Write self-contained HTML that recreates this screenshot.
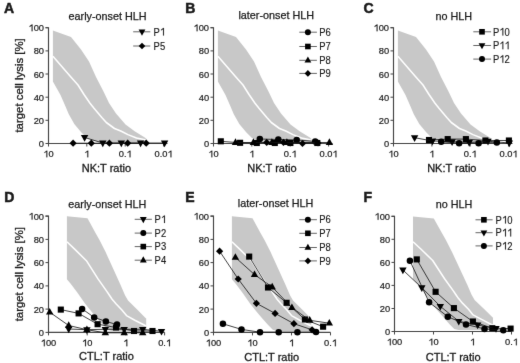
<!DOCTYPE html><html><head><meta charset="utf-8"><style>html,body{margin:0;padding:0;background:#fff;}svg{display:block;filter:grayscale(1);}</style></head><body>
<svg width="520" height="363" viewBox="0 0 520 363" font-family='"Liberation Sans", sans-serif' fill="#1a1a1a">
<rect width="520" height="363" fill="#fff"/>
<defs><filter id="bl" x="0" y="0" width="520" height="363" filterUnits="userSpaceOnUse" color-interpolation-filters="sRGB"><feConvolveMatrix order="3" kernelMatrix="0.00524 0.06192 0.00524 0.06192 0.73137 0.06192 0.00524 0.06192 0.00524" divisor="1" edgeMode="duplicate"/></filter></defs>
<g filter="url(#bl)"><rect width="520" height="363" fill="#fff"/>
<polygon points="52.9,30.4 71.0,37.0 81.0,49.5 89.0,61.5 96.0,77.0 103.5,91.5 109.0,103.0 116.0,113.5 125.5,124.5 135.0,131.5 144.8,137.4 147.0,139.5 147.0,143.0 120.0,143.0 100.0,142.3 92.2,140.5 86.7,137.7 81.2,132.2 74.3,123.9 68.8,114.3 65.3,106.0 60.5,95.0 52.9,81.4" fill="#c8c8c8"/>
<polyline points="52.9,56.3 71.1,77.2 78.0,85.0 84.0,94.5 90.0,103.2 94.0,108.2 101.8,117.5 106.3,122.5 114.5,128.5 121.3,131.3 127.9,134.6 136.5,138.0 144.8,139.8 147.0,140.2" fill="none" stroke="#fff" stroke-width="1.55" stroke-linejoin="round"/>
<polygon points="217.9,30.4 236.0,37.0 246.0,49.5 254.0,61.5 261.0,77.0 268.5,91.5 274.0,103.0 281.0,113.5 290.5,124.5 300.0,131.5 309.8,137.4 312.0,139.5 312.0,143.0 285.0,143.0 265.0,142.3 257.2,140.5 251.7,137.7 246.2,132.2 239.3,123.9 233.8,114.3 230.3,106.0 225.5,95.0 217.9,81.4" fill="#c8c8c8"/>
<polyline points="217.9,56.3 236.1,77.2 243.0,85.0 249.0,94.5 255.0,103.2 259.0,108.2 266.8,117.5 271.3,122.5 279.5,128.5 286.3,131.3 292.9,134.6 301.5,138.0 309.8,139.8 312.0,140.2" fill="none" stroke="#fff" stroke-width="1.55" stroke-linejoin="round"/>
<polygon points="397.9,30.4 416.0,37.0 426.0,49.5 434.0,61.5 441.0,77.0 448.5,91.5 454.0,103.0 461.0,113.5 470.5,124.5 480.0,131.5 489.8,137.4 492.0,139.5 492.0,143.0 465.0,143.0 445.0,142.3 437.2,140.5 431.7,137.7 426.2,132.2 419.3,123.9 413.8,114.3 410.3,106.0 405.5,95.0 397.9,81.4" fill="#c8c8c8"/>
<polyline points="397.9,56.3 416.1,77.2 423.0,85.0 429.0,94.5 435.0,103.2 439.0,108.2 446.8,117.5 451.3,122.5 459.5,128.5 466.3,131.3 472.9,134.6 481.5,138.0 489.8,139.8 492.0,140.2" fill="none" stroke="#fff" stroke-width="1.55" stroke-linejoin="round"/>
<polygon points="66.9,216.2 87.5,218.3 95.8,233.4 99.5,240.0 105.6,252.1 113.2,268.8 120.8,285.5 125.0,295.2 128.0,300.5 137.9,310.3 145.5,317.9 146.2,318.5 146.2,331.0 112.0,331.0 107.8,329.8 102.9,324.8 96.9,317.9 91.0,311.0 85.0,303.5 77.3,292.6 70.7,283.8 66.9,279.2" fill="#c8c8c8"/>
<polyline points="66.9,241.7 74.9,249.4 86.4,260.7 98.0,278.9 107.0,291.6 109.6,295.5 112.1,299.2 116.2,304.0 121.9,310.0 126.5,315.6 134.8,320.2 144.7,325.3 146.2,325.8" fill="none" stroke="#fff" stroke-width="1.55" stroke-linejoin="round"/>
<polygon points="231.9,216.2 252.5,218.3 260.8,233.4 264.5,240.0 270.6,252.1 278.2,268.8 285.8,285.5 290.0,295.2 293.0,300.5 302.9,310.3 310.5,317.9 311.2,318.5 311.2,331.0 277.0,331.0 272.8,329.8 267.9,324.8 261.9,317.9 256.0,311.0 250.0,303.5 242.3,292.6 235.7,283.8 231.9,279.2" fill="#c8c8c8"/>
<polyline points="231.9,241.7 239.9,249.4 251.4,260.7 263.0,278.9 272.0,291.6 274.6,295.5 277.1,299.2 281.2,304.0 286.9,310.0 291.5,315.6 299.8,320.2 309.7,325.3 311.2,325.8" fill="none" stroke="#fff" stroke-width="1.55" stroke-linejoin="round"/>
<polygon points="413.0,216.4 433.8,218.5 442.2,233.4 445.9,240.0 452.0,252.0 459.7,268.5 467.4,285.0 471.6,294.7 474.6,299.9 484.6,309.6 492.2,317.1 493.0,317.7 493.0,330.1 458.5,330.1 454.3,328.9 449.3,324.0 443.3,317.1 437.3,310.3 431.3,302.9 423.5,292.1 416.9,283.4 413.0,278.8" fill="#c8c8c8"/>
<polyline points="413.0,241.7 421.1,249.3 432.7,260.5 444.4,278.5 453.5,291.1 456.1,295.0 458.6,298.6 462.7,303.4 468.5,309.3 473.1,314.9 481.5,319.4 491.4,324.5 493.0,325.0" fill="none" stroke="#fff" stroke-width="1.55" stroke-linejoin="round"/>
<path d="M45.5,27.7H48.5V143.5H167.5" fill="none" stroke="#444" stroke-width="1.15"/>
<path d="M45.5,143.5H48.5" stroke="#444" stroke-width="1"/>
<text x="44.0" y="147.0" font-size="9.3" text-anchor="end" font-weight="normal" stroke="#1a1a1a" stroke-width="0.2" >0</text>
<path d="M45.5,120.3H48.5" stroke="#444" stroke-width="1"/>
<text x="44.0" y="123.8" font-size="9.3" text-anchor="end" font-weight="normal" stroke="#1a1a1a" stroke-width="0.2" >20</text>
<path d="M45.5,97.2H48.5" stroke="#444" stroke-width="1"/>
<text x="44.0" y="100.7" font-size="9.3" text-anchor="end" font-weight="normal" stroke="#1a1a1a" stroke-width="0.2" >40</text>
<path d="M45.5,74.0H48.5" stroke="#444" stroke-width="1"/>
<text x="44.0" y="77.5" font-size="9.3" text-anchor="end" font-weight="normal" stroke="#1a1a1a" stroke-width="0.2" >60</text>
<path d="M45.5,50.9H48.5" stroke="#444" stroke-width="1"/>
<text x="44.0" y="54.4" font-size="9.3" text-anchor="end" font-weight="normal" stroke="#1a1a1a" stroke-width="0.2" >80</text>
<path d="M45.5,27.7H48.5" stroke="#444" stroke-width="1"/>
<polygon points="32.49,31.20 32.49,24.54 31.81,24.54 29.63,26.10 29.63,26.90 31.65,25.64 31.65,31.20" stroke="#1a1a1a" stroke-width="0.2"/>
<text x="33.71" y="31.20" font-size="9.3" stroke="#1a1a1a" stroke-width="0.2">00</text>
<path d="M48.5,143.5V146.5" stroke="#444" stroke-width="1"/>
<polygon points="47.28,157.30 47.28,150.64 46.60,150.64 44.43,152.20 44.43,153.00 46.44,151.74 46.44,157.30" stroke="#1a1a1a" stroke-width="0.2"/>
<text x="48.50" y="157.30" font-size="9.3" stroke="#1a1a1a" stroke-width="0.2">0</text>
<path d="M86.8,143.5V146.5" stroke="#444" stroke-width="1"/>
<polygon points="88.22,157.30 88.22,150.64 87.54,150.64 85.36,152.20 85.36,153.00 87.38,151.74 87.38,157.30" stroke="#1a1a1a" stroke-width="0.2"/>
<path d="M125.2,143.5V146.5" stroke="#444" stroke-width="1"/>
<text x="118.74" y="157.30" font-size="9.3" stroke="#1a1a1a" stroke-width="0.2">0.</text>
<polygon points="130.44,157.30 130.44,150.64 129.77,150.64 127.59,152.20 127.59,153.00 129.61,151.74 129.61,157.30" stroke="#1a1a1a" stroke-width="0.2"/>
<path d="M163.6,143.5V146.5" stroke="#444" stroke-width="1"/>
<text x="154.50" y="157.30" font-size="9.3" stroke="#1a1a1a" stroke-width="0.2">0.0</text>
<polygon points="171.38,157.30 171.38,150.64 170.70,150.64 168.53,152.20 168.53,153.00 170.54,151.74 170.54,157.30" stroke="#1a1a1a" stroke-width="0.2"/>
<path d="M210.5,27.7H213.5V143.5H332.5" fill="none" stroke="#444" stroke-width="1.15"/>
<path d="M210.5,143.5H213.5" stroke="#444" stroke-width="1"/>
<text x="209.1" y="147.0" font-size="9.3" text-anchor="end" font-weight="normal" stroke="#1a1a1a" stroke-width="0.2" >0</text>
<path d="M210.5,120.3H213.5" stroke="#444" stroke-width="1"/>
<text x="209.1" y="123.8" font-size="9.3" text-anchor="end" font-weight="normal" stroke="#1a1a1a" stroke-width="0.2" >20</text>
<path d="M210.5,97.2H213.5" stroke="#444" stroke-width="1"/>
<text x="209.1" y="100.7" font-size="9.3" text-anchor="end" font-weight="normal" stroke="#1a1a1a" stroke-width="0.2" >40</text>
<path d="M210.5,74.0H213.5" stroke="#444" stroke-width="1"/>
<text x="209.1" y="77.5" font-size="9.3" text-anchor="end" font-weight="normal" stroke="#1a1a1a" stroke-width="0.2" >60</text>
<path d="M210.5,50.9H213.5" stroke="#444" stroke-width="1"/>
<text x="209.1" y="54.4" font-size="9.3" text-anchor="end" font-weight="normal" stroke="#1a1a1a" stroke-width="0.2" >80</text>
<path d="M210.5,27.7H213.5" stroke="#444" stroke-width="1"/>
<polygon points="197.49,31.20 197.49,24.54 196.81,24.54 194.63,26.10 194.63,26.90 196.65,25.64 196.65,31.20" stroke="#1a1a1a" stroke-width="0.2"/>
<text x="198.71" y="31.20" font-size="9.3" stroke="#1a1a1a" stroke-width="0.2">00</text>
<path d="M213.5,143.5V146.5" stroke="#444" stroke-width="1"/>
<polygon points="212.28,157.30 212.28,150.64 211.60,150.64 209.43,152.20 209.43,153.00 211.44,151.74 211.44,157.30" stroke="#1a1a1a" stroke-width="0.2"/>
<text x="213.50" y="157.30" font-size="9.3" stroke="#1a1a1a" stroke-width="0.2">0</text>
<path d="M251.8,143.5V146.5" stroke="#444" stroke-width="1"/>
<polygon points="253.22,157.30 253.22,150.64 252.54,150.64 250.36,152.20 250.36,153.00 252.38,151.74 252.38,157.30" stroke="#1a1a1a" stroke-width="0.2"/>
<path d="M290.2,143.5V146.5" stroke="#444" stroke-width="1"/>
<text x="283.74" y="157.30" font-size="9.3" stroke="#1a1a1a" stroke-width="0.2">0.</text>
<polygon points="295.44,157.30 295.44,150.64 294.77,150.64 292.59,152.20 292.59,153.00 294.61,151.74 294.61,157.30" stroke="#1a1a1a" stroke-width="0.2"/>
<path d="M328.6,143.5V146.5" stroke="#444" stroke-width="1"/>
<text x="319.50" y="157.30" font-size="9.3" stroke="#1a1a1a" stroke-width="0.2">0.0</text>
<polygon points="336.38,157.30 336.38,150.64 335.70,150.64 333.53,152.20 333.53,153.00 335.54,151.74 335.54,157.30" stroke="#1a1a1a" stroke-width="0.2"/>
<path d="M390.5,27.7H393.5V143.5H512.5" fill="none" stroke="#444" stroke-width="1.15"/>
<path d="M390.5,143.5H393.5" stroke="#444" stroke-width="1"/>
<text x="389.1" y="147.0" font-size="9.3" text-anchor="end" font-weight="normal" stroke="#1a1a1a" stroke-width="0.2" >0</text>
<path d="M390.5,120.3H393.5" stroke="#444" stroke-width="1"/>
<text x="389.1" y="123.8" font-size="9.3" text-anchor="end" font-weight="normal" stroke="#1a1a1a" stroke-width="0.2" >20</text>
<path d="M390.5,97.2H393.5" stroke="#444" stroke-width="1"/>
<text x="389.1" y="100.7" font-size="9.3" text-anchor="end" font-weight="normal" stroke="#1a1a1a" stroke-width="0.2" >40</text>
<path d="M390.5,74.0H393.5" stroke="#444" stroke-width="1"/>
<text x="389.1" y="77.5" font-size="9.3" text-anchor="end" font-weight="normal" stroke="#1a1a1a" stroke-width="0.2" >60</text>
<path d="M390.5,50.9H393.5" stroke="#444" stroke-width="1"/>
<text x="389.1" y="54.4" font-size="9.3" text-anchor="end" font-weight="normal" stroke="#1a1a1a" stroke-width="0.2" >80</text>
<path d="M390.5,27.7H393.5" stroke="#444" stroke-width="1"/>
<polygon points="377.49,31.20 377.49,24.54 376.81,24.54 374.63,26.10 374.63,26.90 376.65,25.64 376.65,31.20" stroke="#1a1a1a" stroke-width="0.2"/>
<text x="378.71" y="31.20" font-size="9.3" stroke="#1a1a1a" stroke-width="0.2">00</text>
<path d="M393.5,143.5V146.5" stroke="#444" stroke-width="1"/>
<polygon points="392.28,157.30 392.28,150.64 391.60,150.64 389.43,152.20 389.43,153.00 391.44,151.74 391.44,157.30" stroke="#1a1a1a" stroke-width="0.2"/>
<text x="393.50" y="157.30" font-size="9.3" stroke="#1a1a1a" stroke-width="0.2">0</text>
<path d="M431.9,143.5V146.5" stroke="#444" stroke-width="1"/>
<polygon points="433.22,157.30 433.22,150.64 432.54,150.64 430.36,152.20 430.36,153.00 432.38,151.74 432.38,157.30" stroke="#1a1a1a" stroke-width="0.2"/>
<path d="M470.2,143.5V146.5" stroke="#444" stroke-width="1"/>
<text x="463.74" y="157.30" font-size="9.3" stroke="#1a1a1a" stroke-width="0.2">0.</text>
<polygon points="475.44,157.30 475.44,150.64 474.77,150.64 472.59,152.20 472.59,153.00 474.61,151.74 474.61,157.30" stroke="#1a1a1a" stroke-width="0.2"/>
<path d="M508.6,143.5V146.5" stroke="#444" stroke-width="1"/>
<text x="499.50" y="157.30" font-size="9.3" stroke="#1a1a1a" stroke-width="0.2">0.0</text>
<polygon points="516.38,157.30 516.38,150.64 515.70,150.64 513.53,152.20 513.53,153.00 515.54,151.74 515.54,157.30" stroke="#1a1a1a" stroke-width="0.2"/>
<path d="M45.5,216.1H48.5V332.4H164.6" fill="none" stroke="#444" stroke-width="1.15"/>
<path d="M45.5,332.4H48.5" stroke="#444" stroke-width="1"/>
<text x="44.0" y="335.9" font-size="9.3" text-anchor="end" font-weight="normal" stroke="#1a1a1a" stroke-width="0.2" >0</text>
<path d="M45.5,309.1H48.5" stroke="#444" stroke-width="1"/>
<text x="44.0" y="312.6" font-size="9.3" text-anchor="end" font-weight="normal" stroke="#1a1a1a" stroke-width="0.2" >20</text>
<path d="M45.5,285.9H48.5" stroke="#444" stroke-width="1"/>
<text x="44.0" y="289.4" font-size="9.3" text-anchor="end" font-weight="normal" stroke="#1a1a1a" stroke-width="0.2" >40</text>
<path d="M45.5,262.6H48.5" stroke="#444" stroke-width="1"/>
<text x="44.0" y="266.1" font-size="9.3" text-anchor="end" font-weight="normal" stroke="#1a1a1a" stroke-width="0.2" >60</text>
<path d="M45.5,239.4H48.5" stroke="#444" stroke-width="1"/>
<text x="44.0" y="242.9" font-size="9.3" text-anchor="end" font-weight="normal" stroke="#1a1a1a" stroke-width="0.2" >80</text>
<path d="M45.5,216.1H48.5" stroke="#444" stroke-width="1"/>
<polygon points="32.49,219.60 32.49,212.94 31.81,212.94 29.63,214.50 29.63,215.30 31.65,214.04 31.65,219.60" stroke="#1a1a1a" stroke-width="0.2"/>
<text x="33.71" y="219.60" font-size="9.3" stroke="#1a1a1a" stroke-width="0.2">00</text>
<path d="M48.5,332.4V335.4" stroke="#444" stroke-width="1"/>
<polygon points="44.69,346.20 44.69,339.54 44.02,339.54 41.84,341.10 41.84,341.90 43.86,340.64 43.86,346.20" stroke="#1a1a1a" stroke-width="0.2"/>
<text x="45.91" y="346.20" font-size="9.3" stroke="#1a1a1a" stroke-width="0.2">00</text>
<path d="M87.2,332.4V335.4" stroke="#444" stroke-width="1"/>
<polygon points="85.98,346.20 85.98,339.54 85.30,339.54 83.13,341.10 83.13,341.90 85.14,340.64 85.14,346.20" stroke="#1a1a1a" stroke-width="0.2"/>
<text x="87.20" y="346.20" font-size="9.3" stroke="#1a1a1a" stroke-width="0.2">0</text>
<path d="M125.9,332.4V335.4" stroke="#444" stroke-width="1"/>
<polygon points="127.27,346.20 127.27,339.54 126.59,339.54 124.41,341.10 124.41,341.90 126.43,340.64 126.43,346.20" stroke="#1a1a1a" stroke-width="0.2"/>
<path d="M164.6,332.4V335.4" stroke="#444" stroke-width="1"/>
<text x="158.14" y="346.20" font-size="9.3" stroke="#1a1a1a" stroke-width="0.2">0.</text>
<polygon points="169.84,346.20 169.84,339.54 169.17,339.54 166.99,341.10 166.99,341.90 169.01,340.64 169.01,346.20" stroke="#1a1a1a" stroke-width="0.2"/>
<path d="M210.5,216.1H213.5V332.4H330.5" fill="none" stroke="#444" stroke-width="1.15"/>
<path d="M210.5,332.4H213.5" stroke="#444" stroke-width="1"/>
<text x="209.1" y="335.9" font-size="9.3" text-anchor="end" font-weight="normal" stroke="#1a1a1a" stroke-width="0.2" >0</text>
<path d="M210.5,309.1H213.5" stroke="#444" stroke-width="1"/>
<text x="209.1" y="312.6" font-size="9.3" text-anchor="end" font-weight="normal" stroke="#1a1a1a" stroke-width="0.2" >20</text>
<path d="M210.5,285.9H213.5" stroke="#444" stroke-width="1"/>
<text x="209.1" y="289.4" font-size="9.3" text-anchor="end" font-weight="normal" stroke="#1a1a1a" stroke-width="0.2" >40</text>
<path d="M210.5,262.6H213.5" stroke="#444" stroke-width="1"/>
<text x="209.1" y="266.1" font-size="9.3" text-anchor="end" font-weight="normal" stroke="#1a1a1a" stroke-width="0.2" >60</text>
<path d="M210.5,239.4H213.5" stroke="#444" stroke-width="1"/>
<text x="209.1" y="242.9" font-size="9.3" text-anchor="end" font-weight="normal" stroke="#1a1a1a" stroke-width="0.2" >80</text>
<path d="M210.5,216.1H213.5" stroke="#444" stroke-width="1"/>
<polygon points="197.49,219.60 197.49,212.94 196.81,212.94 194.63,214.50 194.63,215.30 196.65,214.04 196.65,219.60" stroke="#1a1a1a" stroke-width="0.2"/>
<text x="198.71" y="219.60" font-size="9.3" stroke="#1a1a1a" stroke-width="0.2">00</text>
<path d="M213.5,332.4V335.4" stroke="#444" stroke-width="1"/>
<polygon points="209.69,346.20 209.69,339.54 209.02,339.54 206.84,341.10 206.84,341.90 208.86,340.64 208.86,346.20" stroke="#1a1a1a" stroke-width="0.2"/>
<text x="210.91" y="346.20" font-size="9.3" stroke="#1a1a1a" stroke-width="0.2">00</text>
<path d="M252.5,332.4V335.4" stroke="#444" stroke-width="1"/>
<polygon points="251.28,346.20 251.28,339.54 250.60,339.54 248.43,341.10 248.43,341.90 250.44,340.64 250.44,346.20" stroke="#1a1a1a" stroke-width="0.2"/>
<text x="252.50" y="346.20" font-size="9.3" stroke="#1a1a1a" stroke-width="0.2">0</text>
<path d="M291.5,332.4V335.4" stroke="#444" stroke-width="1"/>
<polygon points="292.87,346.20 292.87,339.54 292.19,339.54 290.01,341.10 290.01,341.90 292.03,340.64 292.03,346.20" stroke="#1a1a1a" stroke-width="0.2"/>
<path d="M330.5,332.4V335.4" stroke="#444" stroke-width="1"/>
<text x="324.04" y="346.20" font-size="9.3" stroke="#1a1a1a" stroke-width="0.2">0.</text>
<polygon points="335.74,346.20 335.74,339.54 335.07,339.54 332.89,341.10 332.89,341.90 334.91,340.64 334.91,346.20" stroke="#1a1a1a" stroke-width="0.2"/>
<path d="M391.5,216.3H394.5V331.5H511.5" fill="none" stroke="#444" stroke-width="1.15"/>
<path d="M391.5,331.5H394.5" stroke="#444" stroke-width="1"/>
<text x="390.1" y="335.0" font-size="9.3" text-anchor="end" font-weight="normal" stroke="#1a1a1a" stroke-width="0.2" >0</text>
<path d="M391.5,308.5H394.5" stroke="#444" stroke-width="1"/>
<text x="390.1" y="312.0" font-size="9.3" text-anchor="end" font-weight="normal" stroke="#1a1a1a" stroke-width="0.2" >20</text>
<path d="M391.5,285.4H394.5" stroke="#444" stroke-width="1"/>
<text x="390.1" y="288.9" font-size="9.3" text-anchor="end" font-weight="normal" stroke="#1a1a1a" stroke-width="0.2" >40</text>
<path d="M391.5,262.4H394.5" stroke="#444" stroke-width="1"/>
<text x="390.1" y="265.9" font-size="9.3" text-anchor="end" font-weight="normal" stroke="#1a1a1a" stroke-width="0.2" >60</text>
<path d="M391.5,239.3H394.5" stroke="#444" stroke-width="1"/>
<text x="390.1" y="242.8" font-size="9.3" text-anchor="end" font-weight="normal" stroke="#1a1a1a" stroke-width="0.2" >80</text>
<path d="M391.5,216.3H394.5" stroke="#444" stroke-width="1"/>
<polygon points="378.49,219.80 378.49,213.14 377.81,213.14 375.63,214.70 375.63,215.50 377.65,214.24 377.65,219.80" stroke="#1a1a1a" stroke-width="0.2"/>
<text x="379.71" y="219.80" font-size="9.3" stroke="#1a1a1a" stroke-width="0.2">00</text>
<path d="M394.5,331.5V334.5" stroke="#444" stroke-width="1"/>
<polygon points="390.69,345.30 390.69,338.64 390.02,338.64 387.84,340.20 387.84,341.00 389.86,339.74 389.86,345.30" stroke="#1a1a1a" stroke-width="0.2"/>
<text x="391.91" y="345.30" font-size="9.3" stroke="#1a1a1a" stroke-width="0.2">00</text>
<path d="M433.5,331.5V334.5" stroke="#444" stroke-width="1"/>
<polygon points="432.28,345.30 432.28,338.64 431.60,338.64 429.43,340.20 429.43,341.00 431.44,339.74 431.44,345.30" stroke="#1a1a1a" stroke-width="0.2"/>
<text x="433.50" y="345.30" font-size="9.3" stroke="#1a1a1a" stroke-width="0.2">0</text>
<path d="M472.5,331.5V334.5" stroke="#444" stroke-width="1"/>
<polygon points="473.87,345.30 473.87,338.64 473.19,338.64 471.01,340.20 471.01,341.00 473.03,339.74 473.03,345.30" stroke="#1a1a1a" stroke-width="0.2"/>
<path d="M511.5,331.5V334.5" stroke="#444" stroke-width="1"/>
<text x="505.04" y="345.30" font-size="9.3" stroke="#1a1a1a" stroke-width="0.2">0.</text>
<polygon points="516.74,345.30 516.74,338.64 516.07,338.64 513.89,340.20 513.89,341.00 515.91,339.74 515.91,345.30" stroke="#1a1a1a" stroke-width="0.2"/>
<text x="106.4" y="171.6" font-size="11" text-anchor="middle" font-weight="normal" stroke="#1a1a1a" stroke-width="0.3" >NK:T ratio</text>
<text x="271.9" y="171.6" font-size="11" text-anchor="middle" font-weight="normal" stroke="#1a1a1a" stroke-width="0.3" >NK:T ratio</text>
<text x="451.8" y="171.6" font-size="11" text-anchor="middle" font-weight="normal" stroke="#1a1a1a" stroke-width="0.3" >NK:T ratio</text>
<text x="106.5" y="360.4" font-size="11" text-anchor="middle" font-weight="normal" stroke="#1a1a1a" stroke-width="0.3" >CTL:T ratio</text>
<text x="271.7" y="360.8" font-size="11" text-anchor="middle" font-weight="normal" stroke="#1a1a1a" stroke-width="0.3" >CTL:T ratio</text>
<text x="453.2" y="360.6" font-size="11" text-anchor="middle" font-weight="normal" stroke="#1a1a1a" stroke-width="0.3" >CTL:T ratio</text>
<text x="0.0" y="0.0" font-size="11.4" text-anchor="middle" font-weight="normal" stroke="#1a1a1a" stroke-width="0.3" transform="translate(22.9,85.4) rotate(-90)">target cell lysis [%]</text>
<text x="0.0" y="0.0" font-size="11.4" text-anchor="middle" font-weight="normal" stroke="#1a1a1a" stroke-width="0.3" transform="translate(22.9,274.2) rotate(-90)">target cell lysis [%]</text>
<text x="107.6" y="19.8" font-size="10.8" text-anchor="middle" font-weight="normal" stroke="#1a1a1a" stroke-width="0.25" >early-onset HLH</text>
<text x="276.2" y="19.0" font-size="10.8" text-anchor="middle" font-weight="normal" stroke="#1a1a1a" stroke-width="0.25" >later-onset HLH</text>
<text x="453.8" y="19.6" font-size="10.8" text-anchor="middle" font-weight="normal" stroke="#1a1a1a" stroke-width="0.25" >no HLH</text>
<text x="107.3" y="207.6" font-size="10.8" text-anchor="middle" font-weight="normal" stroke="#1a1a1a" stroke-width="0.25" >early-onset HLH</text>
<text x="275.6" y="207.3" font-size="10.8" text-anchor="middle" font-weight="normal" stroke="#1a1a1a" stroke-width="0.25" >later-onset HLH</text>
<text x="454.0" y="207.8" font-size="10.8" text-anchor="middle" font-weight="normal" stroke="#1a1a1a" stroke-width="0.25" >no HLH</text>
<text x="3.9" y="12.9" font-size="14" text-anchor="start" font-weight="bold" stroke="#1a1a1a" stroke-width="0.5" >A</text>
<text x="185.2" y="12.8" font-size="14" text-anchor="start" font-weight="bold" stroke="#1a1a1a" stroke-width="0.5" >B</text>
<text x="363.5" y="12.9" font-size="14" text-anchor="start" font-weight="bold" stroke="#1a1a1a" stroke-width="0.5" >C</text>
<text x="4.3" y="202.3" font-size="14" text-anchor="start" font-weight="bold" stroke="#1a1a1a" stroke-width="0.5" >D</text>
<text x="185.2" y="202.2" font-size="14" text-anchor="start" font-weight="bold" stroke="#1a1a1a" stroke-width="0.5" >E</text>
<text x="363.6" y="202.1" font-size="14" text-anchor="start" font-weight="bold" stroke="#1a1a1a" stroke-width="0.5" >F</text>
<polyline points="84.6,137.5 102.8,143.0 121.3,143.0 140.6,143.0 164.6,143.0" fill="none" stroke="#111" stroke-width="0.8"/>
<polygon points="80.90,135.10 88.30,135.10 84.60,141.70" fill="#000"/>
<polygon points="99.10,140.60 106.50,140.60 102.80,147.20" fill="#000"/>
<polygon points="117.60,140.60 125.00,140.60 121.30,147.20" fill="#000"/>
<polygon points="136.90,140.60 144.30,140.60 140.60,147.20" fill="#000"/>
<polygon points="160.90,140.60 168.30,140.60 164.60,147.20" fill="#000"/>
<polyline points="73.1,143.2 91.3,143.2 109.4,143.2 127.7,143.2 146.2,143.2" fill="none" stroke="#111" stroke-width="0.8"/>
<polygon points="73.10,139.60 76.70,143.20 73.10,146.80 69.50,143.20" fill="#000"/>
<polygon points="91.30,139.60 94.90,143.20 91.30,146.80 87.70,143.20" fill="#000"/>
<polygon points="109.40,139.60 113.00,143.20 109.40,146.80 105.80,143.20" fill="#000"/>
<polygon points="127.70,139.60 131.30,143.20 127.70,146.80 124.10,143.20" fill="#000"/>
<polygon points="146.20,139.60 149.80,143.20 146.20,146.80 142.60,143.20" fill="#000"/>
<polyline points="259.8,139.0 278.3,139.5 296.7,140.0 315.2,141.4" fill="none" stroke="#111" stroke-width="0.8"/>
<circle cx="259.8" cy="139.0" r="3.25" fill="#000"/>
<circle cx="278.3" cy="139.5" r="3.25" fill="#000"/>
<circle cx="296.7" cy="140.0" r="3.25" fill="#000"/>
<circle cx="315.2" cy="141.4" r="3.25" fill="#000"/>
<polyline points="220.8,141.3 240.1,142.8 256.8,143.0 274.8,143.0 290.4,143.0 317.3,143.0" fill="none" stroke="#111" stroke-width="0.8"/>
<rect x="217.75" y="138.25" width="6.10" height="6.10" fill="#000"/>
<rect x="237.05" y="139.75" width="6.10" height="6.10" fill="#000"/>
<rect x="253.75" y="139.95" width="6.10" height="6.10" fill="#000"/>
<rect x="271.75" y="139.95" width="6.10" height="6.10" fill="#000"/>
<rect x="287.35" y="139.95" width="6.10" height="6.10" fill="#000"/>
<rect x="314.25" y="139.95" width="6.10" height="6.10" fill="#000"/>
<polyline points="235.5,142.5 253.4,142.5 271.9,142.5 286.9,142.5 329.4,142.5" fill="none" stroke="#111" stroke-width="0.8"/>
<polygon points="231.80,144.90 239.20,144.90 235.50,138.30" fill="#000"/>
<polygon points="249.70,144.90 257.10,144.90 253.40,138.30" fill="#000"/>
<polygon points="268.20,144.90 275.60,144.90 271.90,138.30" fill="#000"/>
<polygon points="283.20,144.90 290.60,144.90 286.90,138.30" fill="#000"/>
<polygon points="325.70,144.90 333.10,144.90 329.40,138.30" fill="#000"/>
<polyline points="266.7,142.4 283.5,142.4 302.5,143.5 318.0,143.0" fill="none" stroke="#111" stroke-width="0.8"/>
<polygon points="266.70,138.80 270.30,142.40 266.70,146.00 263.10,142.40" fill="#000"/>
<polygon points="283.50,138.80 287.10,142.40 283.50,146.00 279.90,142.40" fill="#000"/>
<polygon points="302.50,139.90 306.10,143.50 302.50,147.10 298.90,143.50" fill="#000"/>
<polygon points="318.00,139.40 321.60,143.00 318.00,146.60 314.40,143.00" fill="#000"/>
<polyline points="429.0,140.0 447.7,139.1 465.9,139.1 485.4,140.5 508.9,140.5" fill="none" stroke="#111" stroke-width="0.8"/>
<rect x="425.95" y="136.95" width="6.10" height="6.10" fill="#000"/>
<rect x="444.65" y="136.05" width="6.10" height="6.10" fill="#000"/>
<rect x="462.85" y="136.05" width="6.10" height="6.10" fill="#000"/>
<rect x="482.35" y="137.45" width="6.10" height="6.10" fill="#000"/>
<rect x="505.85" y="137.45" width="6.10" height="6.10" fill="#000"/>
<polyline points="414.6,137.7 432.5,141.0 452.1,141.7 469.2,142.5 488.0,141.2 509.3,143.0" fill="none" stroke="#111" stroke-width="0.8"/>
<polygon points="410.90,135.30 418.30,135.30 414.60,141.90" fill="#000"/>
<polygon points="428.80,138.60 436.20,138.60 432.50,145.20" fill="#000"/>
<polygon points="448.40,139.30 455.80,139.30 452.10,145.90" fill="#000"/>
<polygon points="465.50,140.10 472.90,140.10 469.20,146.70" fill="#000"/>
<polygon points="484.30,138.80 491.70,138.80 488.00,145.40" fill="#000"/>
<polygon points="505.60,140.60 513.00,140.60 509.30,147.20" fill="#000"/>
<polyline points="441.2,141.7 459.1,143.2 478.6,143.2 496.8,142.5" fill="none" stroke="#111" stroke-width="0.8"/>
<circle cx="441.2" cy="141.7" r="3.25" fill="#000"/>
<circle cx="459.1" cy="143.2" r="3.25" fill="#000"/>
<circle cx="478.6" cy="143.2" r="3.25" fill="#000"/>
<circle cx="496.8" cy="142.5" r="3.25" fill="#000"/>
<polyline points="68.7,329.0 86.9,329.7 105.3,329.3 124.2,329.3 142.7,329.3 161.5,331.3" fill="none" stroke="#111" stroke-width="0.8"/>
<polygon points="65.00,326.60 72.40,326.60 68.70,333.20" fill="#000"/>
<polygon points="83.20,327.30 90.60,327.30 86.90,333.90" fill="#000"/>
<polygon points="101.60,326.90 109.00,326.90 105.30,333.50" fill="#000"/>
<polygon points="120.50,326.90 127.90,326.90 124.20,333.50" fill="#000"/>
<polygon points="139.00,326.90 146.40,326.90 142.70,333.50" fill="#000"/>
<polygon points="157.80,328.90 165.20,328.90 161.50,335.50" fill="#000"/>
<polyline points="82.1,308.9 94.2,317.4 105.9,321.4 117.0,324.6" fill="none" stroke="#111" stroke-width="0.8"/>
<circle cx="82.1" cy="308.9" r="3.25" fill="#000"/>
<circle cx="94.2" cy="317.4" r="3.25" fill="#000"/>
<circle cx="105.9" cy="321.4" r="3.25" fill="#000"/>
<circle cx="117.0" cy="324.6" r="3.25" fill="#000"/>
<polyline points="60.8,309.6 78.6,313.4 97.6,324.2 116.0,327.5 134.0,331.0 152.5,331.0" fill="none" stroke="#111" stroke-width="0.8"/>
<rect x="57.75" y="306.55" width="6.10" height="6.10" fill="#000"/>
<rect x="75.55" y="310.35" width="6.10" height="6.10" fill="#000"/>
<rect x="94.55" y="321.15" width="6.10" height="6.10" fill="#000"/>
<rect x="112.95" y="324.45" width="6.10" height="6.10" fill="#000"/>
<rect x="130.95" y="327.95" width="6.10" height="6.10" fill="#000"/>
<rect x="149.45" y="327.95" width="6.10" height="6.10" fill="#000"/>
<polyline points="49.7,312.2 68.7,325.5 86.9,329.7 105.3,332.8 124.2,332.8 142.7,332.8" fill="none" stroke="#111" stroke-width="0.8"/>
<polygon points="46.00,314.60 53.40,314.60 49.70,308.00" fill="#000"/>
<polygon points="65.00,327.90 72.40,327.90 68.70,321.30" fill="#000"/>
<polygon points="83.20,332.10 90.60,332.10 86.90,325.50" fill="#000"/>
<polygon points="101.60,335.20 109.00,335.20 105.30,328.60" fill="#000"/>
<polygon points="120.50,335.20 127.90,335.20 124.20,328.60" fill="#000"/>
<polygon points="139.00,335.20 146.40,335.20 142.70,328.60" fill="#000"/>
<polyline points="222.9,323.8 241.5,329.4 260.0,332.2 278.7,332.2 297.4,332.2 316.0,332.0" fill="none" stroke="#111" stroke-width="0.8"/>
<circle cx="222.9" cy="323.8" r="3.25" fill="#000"/>
<circle cx="241.5" cy="329.4" r="3.25" fill="#000"/>
<circle cx="260.0" cy="332.2" r="3.25" fill="#000"/>
<circle cx="278.7" cy="332.2" r="3.25" fill="#000"/>
<circle cx="297.4" cy="332.2" r="3.25" fill="#000"/>
<circle cx="316.0" cy="332.0" r="3.25" fill="#000"/>
<polyline points="249.2,256.6 268.0,287.5 286.6,302.8 304.9,319.5 323.1,326.7" fill="none" stroke="#111" stroke-width="0.8"/>
<rect x="246.15" y="253.55" width="6.10" height="6.10" fill="#000"/>
<rect x="264.95" y="284.45" width="6.10" height="6.10" fill="#000"/>
<rect x="283.55" y="299.75" width="6.10" height="6.10" fill="#000"/>
<rect x="301.85" y="316.45" width="6.10" height="6.10" fill="#000"/>
<rect x="320.05" y="323.65" width="6.10" height="6.10" fill="#000"/>
<polyline points="235.4,257.4 254.5,274.6 272.2,287.0 291.9,307.6 309.7,320.3 329.3,323.2" fill="none" stroke="#111" stroke-width="0.8"/>
<polygon points="231.70,259.80 239.10,259.80 235.40,253.20" fill="#000"/>
<polygon points="250.80,277.00 258.20,277.00 254.50,270.40" fill="#000"/>
<polygon points="268.50,289.40 275.90,289.40 272.20,282.80" fill="#000"/>
<polygon points="288.20,310.00 295.60,310.00 291.90,303.40" fill="#000"/>
<polygon points="306.00,322.70 313.40,322.70 309.70,316.10" fill="#000"/>
<polygon points="325.60,325.60 333.00,325.60 329.30,319.00" fill="#000"/>
<polyline points="219.6,251.2 238.2,279.0 256.4,303.3 275.1,313.4 293.9,323.7 312.1,329.8" fill="none" stroke="#111" stroke-width="0.8"/>
<polygon points="219.60,247.60 223.20,251.20 219.60,254.80 216.00,251.20" fill="#000"/>
<polygon points="238.20,275.40 241.80,279.00 238.20,282.60 234.60,279.00" fill="#000"/>
<polygon points="256.40,299.70 260.00,303.30 256.40,306.90 252.80,303.30" fill="#000"/>
<polygon points="275.10,309.80 278.70,313.40 275.10,317.00 271.50,313.40" fill="#000"/>
<polygon points="293.90,320.10 297.50,323.70 293.90,327.30 290.30,323.70" fill="#000"/>
<polygon points="312.10,326.20 315.70,329.80 312.10,333.40 308.50,329.80" fill="#000"/>
<polyline points="416.8,259.4 435.6,291.8 453.9,308.1 472.9,321.5 492.3,328.2 510.6,328.6" fill="none" stroke="#111" stroke-width="0.8"/>
<rect x="413.75" y="256.35" width="6.10" height="6.10" fill="#000"/>
<rect x="432.55" y="288.75" width="6.10" height="6.10" fill="#000"/>
<rect x="450.85" y="305.05" width="6.10" height="6.10" fill="#000"/>
<rect x="469.85" y="318.45" width="6.10" height="6.10" fill="#000"/>
<rect x="489.25" y="325.15" width="6.10" height="6.10" fill="#000"/>
<rect x="507.55" y="325.55" width="6.10" height="6.10" fill="#000"/>
<polyline points="402.9,270.0 421.8,287.7 440.3,306.3 458.8,321.3 477.7,325.0 496.0,328.5" fill="none" stroke="#111" stroke-width="0.8"/>
<polygon points="399.20,267.60 406.60,267.60 402.90,274.20" fill="#000"/>
<polygon points="418.10,285.30 425.50,285.30 421.80,291.90" fill="#000"/>
<polygon points="436.60,303.90 444.00,303.90 440.30,310.50" fill="#000"/>
<polygon points="455.10,318.90 462.50,318.90 458.80,325.50" fill="#000"/>
<polygon points="474.00,322.60 481.40,322.60 477.70,329.20" fill="#000"/>
<polygon points="492.30,326.10 499.70,326.10 496.00,332.70" fill="#000"/>
<polyline points="409.9,260.7 429.1,302.3 447.8,316.7 466.0,324.5 484.5,328.9 503.3,330.3" fill="none" stroke="#111" stroke-width="0.8"/>
<circle cx="409.9" cy="260.7" r="3.25" fill="#000"/>
<circle cx="429.1" cy="302.3" r="3.25" fill="#000"/>
<circle cx="447.8" cy="316.7" r="3.25" fill="#000"/>
<circle cx="466.0" cy="324.5" r="3.25" fill="#000"/>
<circle cx="484.5" cy="328.9" r="3.25" fill="#000"/>
<circle cx="503.3" cy="330.3" r="3.25" fill="#000"/>
<path d="M133.2,31.8H150.3" stroke="#555" stroke-width="0.9"/>
<polygon points="138.60,29.59 145.40,29.59 142.00,35.66" fill="#000"/>
<text transform="translate(153.60,35.50) scale(0.89,1)" font-size="10.6" stroke="#1a1a1a" stroke-width="0.15">P</text>
<polygon points="163.90,35.50 163.90,27.91 163.21,27.91 161.01,29.69 161.01,30.60 163.05,29.16 163.05,35.50" stroke="#1a1a1a" stroke-width="0.15"/>
<path d="M133.2,46.0H150.3" stroke="#555" stroke-width="0.9"/>
<polygon points="142.00,42.69 145.31,46.00 142.00,49.31 138.69,46.00" fill="#000"/>
<text transform="translate(153.60,49.70) scale(0.89,1)" font-size="10.6" text-anchor="start" font-weight="normal" stroke="#1a1a1a" stroke-width="0.15">P5</text>
<path d="M299.3,32.2H316.9" stroke="#555" stroke-width="0.9"/>
<circle cx="307.9" cy="32.2" r="2.99" fill="#000"/>
<text transform="translate(319.20,35.90) scale(0.89,1)" font-size="10.6" text-anchor="start" font-weight="normal" stroke="#1a1a1a" stroke-width="0.15">P6</text>
<path d="M299.3,46.5H316.9" stroke="#555" stroke-width="0.9"/>
<rect x="305.09" y="43.69" width="5.61" height="5.61" fill="#000"/>
<text transform="translate(319.20,50.20) scale(0.89,1)" font-size="10.6" text-anchor="start" font-weight="normal" stroke="#1a1a1a" stroke-width="0.15">P7</text>
<path d="M299.3,60.3H316.9" stroke="#555" stroke-width="0.9"/>
<polygon points="304.50,62.51 311.30,62.51 307.90,56.44" fill="#000"/>
<text transform="translate(319.20,64.00) scale(0.89,1)" font-size="10.6" text-anchor="start" font-weight="normal" stroke="#1a1a1a" stroke-width="0.15">P8</text>
<path d="M299.3,73.4H316.9" stroke="#555" stroke-width="0.9"/>
<polygon points="307.90,70.09 311.21,73.40 307.90,76.71 304.59,73.40" fill="#000"/>
<text transform="translate(319.20,77.10) scale(0.89,1)" font-size="10.6" text-anchor="start" font-weight="normal" stroke="#1a1a1a" stroke-width="0.15">P9</text>
<path d="M473.3,31.8H491.1" stroke="#555" stroke-width="0.9"/>
<rect x="479.19" y="28.99" width="5.61" height="5.61" fill="#000"/>
<text transform="translate(493.00,35.50) scale(0.89,1)" font-size="10.6" stroke="#1a1a1a" stroke-width="0.15">P</text>
<polygon points="503.30,35.50 503.30,27.91 502.61,27.91 500.41,29.69 500.41,30.60 502.45,29.16 502.45,35.50" stroke="#1a1a1a" stroke-width="0.15"/>
<text transform="translate(504.54,35.50) scale(0.89,1)" font-size="10.6" stroke="#1a1a1a" stroke-width="0.15">0</text>
<path d="M473.3,45.5H491.1" stroke="#555" stroke-width="0.9"/>
<polygon points="478.60,43.29 485.40,43.29 482.00,49.36" fill="#000"/>
<text transform="translate(493.00,49.20) scale(0.89,1)" font-size="10.6" stroke="#1a1a1a" stroke-width="0.15">P</text>
<polygon points="503.30,49.20 503.30,41.61 502.61,41.61 500.41,43.39 500.41,44.30 502.45,42.86 502.45,49.20" stroke="#1a1a1a" stroke-width="0.15"/>
<polygon points="508.55,49.20 508.55,41.61 507.86,41.61 505.65,43.39 505.65,44.30 507.70,42.86 507.70,49.20" stroke="#1a1a1a" stroke-width="0.15"/>
<path d="M473.3,59.1H491.1" stroke="#555" stroke-width="0.9"/>
<circle cx="482.0" cy="59.1" r="2.99" fill="#000"/>
<text transform="translate(493.00,62.80) scale(0.89,1)" font-size="10.6" stroke="#1a1a1a" stroke-width="0.15">P</text>
<polygon points="503.30,62.80 503.30,55.21 502.61,55.21 500.41,56.99 500.41,57.90 502.45,56.46 502.45,62.80" stroke="#1a1a1a" stroke-width="0.15"/>
<text transform="translate(504.54,62.80) scale(0.89,1)" font-size="10.6" stroke="#1a1a1a" stroke-width="0.15">2</text>
<path d="M134.7,219.3H151.9" stroke="#555" stroke-width="0.9"/>
<polygon points="139.90,217.09 146.70,217.09 143.30,223.16" fill="#000"/>
<text transform="translate(154.60,223.00) scale(0.89,1)" font-size="10.6" stroke="#1a1a1a" stroke-width="0.15">P</text>
<polygon points="164.90,223.00 164.90,215.41 164.21,215.41 162.01,217.19 162.01,218.10 164.05,216.66 164.05,223.00" stroke="#1a1a1a" stroke-width="0.15"/>
<path d="M134.7,233.1H151.9" stroke="#555" stroke-width="0.9"/>
<circle cx="143.3" cy="233.1" r="2.99" fill="#000"/>
<text transform="translate(154.60,236.80) scale(0.89,1)" font-size="10.6" text-anchor="start" font-weight="normal" stroke="#1a1a1a" stroke-width="0.15">P2</text>
<path d="M134.7,246.6H151.9" stroke="#555" stroke-width="0.9"/>
<rect x="140.49" y="243.79" width="5.61" height="5.61" fill="#000"/>
<text transform="translate(154.60,250.30) scale(0.89,1)" font-size="10.6" text-anchor="start" font-weight="normal" stroke="#1a1a1a" stroke-width="0.15">P3</text>
<path d="M134.7,260.2H151.9" stroke="#555" stroke-width="0.9"/>
<polygon points="139.90,262.41 146.70,262.41 143.30,256.34" fill="#000"/>
<text transform="translate(154.60,263.90) scale(0.89,1)" font-size="10.6" text-anchor="start" font-weight="normal" stroke="#1a1a1a" stroke-width="0.15">P4</text>
<path d="M299.3,219.7H316.9" stroke="#555" stroke-width="0.9"/>
<circle cx="307.9" cy="219.7" r="2.99" fill="#000"/>
<text transform="translate(319.20,223.40) scale(0.89,1)" font-size="10.6" text-anchor="start" font-weight="normal" stroke="#1a1a1a" stroke-width="0.15">P6</text>
<path d="M299.3,233.3H316.9" stroke="#555" stroke-width="0.9"/>
<rect x="305.09" y="230.49" width="5.61" height="5.61" fill="#000"/>
<text transform="translate(319.20,237.00) scale(0.89,1)" font-size="10.6" text-anchor="start" font-weight="normal" stroke="#1a1a1a" stroke-width="0.15">P7</text>
<path d="M299.3,247.5H316.9" stroke="#555" stroke-width="0.9"/>
<polygon points="304.50,249.71 311.30,249.71 307.90,243.64" fill="#000"/>
<text transform="translate(319.20,251.20) scale(0.89,1)" font-size="10.6" text-anchor="start" font-weight="normal" stroke="#1a1a1a" stroke-width="0.15">P8</text>
<path d="M299.3,260.9H316.9" stroke="#555" stroke-width="0.9"/>
<polygon points="307.90,257.59 311.21,260.90 307.90,264.21 304.59,260.90" fill="#000"/>
<text transform="translate(319.20,264.60) scale(0.89,1)" font-size="10.6" text-anchor="start" font-weight="normal" stroke="#1a1a1a" stroke-width="0.15">P9</text>
<path d="M475.5,219.8H492.6" stroke="#555" stroke-width="0.9"/>
<rect x="481.09" y="216.99" width="5.61" height="5.61" fill="#000"/>
<text transform="translate(495.60,223.50) scale(0.89,1)" font-size="10.6" stroke="#1a1a1a" stroke-width="0.15">P</text>
<polygon points="505.90,223.50 505.90,215.91 505.21,215.91 503.01,217.69 503.01,218.60 505.05,217.16 505.05,223.50" stroke="#1a1a1a" stroke-width="0.15"/>
<text transform="translate(507.14,223.50) scale(0.89,1)" font-size="10.6" stroke="#1a1a1a" stroke-width="0.15">0</text>
<path d="M475.5,232.7H492.6" stroke="#555" stroke-width="0.9"/>
<polygon points="480.50,230.49 487.30,230.49 483.90,236.56" fill="#000"/>
<text transform="translate(495.60,236.40) scale(0.89,1)" font-size="10.6" stroke="#1a1a1a" stroke-width="0.15">P</text>
<polygon points="505.90,236.40 505.90,228.81 505.21,228.81 503.01,230.59 503.01,231.50 505.05,230.06 505.05,236.40" stroke="#1a1a1a" stroke-width="0.15"/>
<polygon points="511.15,236.40 511.15,228.81 510.46,228.81 508.25,230.59 508.25,231.50 510.30,230.06 510.30,236.40" stroke="#1a1a1a" stroke-width="0.15"/>
<path d="M475.5,245.9H492.6" stroke="#555" stroke-width="0.9"/>
<circle cx="483.9" cy="245.9" r="2.99" fill="#000"/>
<text transform="translate(495.60,249.60) scale(0.89,1)" font-size="10.6" stroke="#1a1a1a" stroke-width="0.15">P</text>
<polygon points="505.90,249.60 505.90,242.01 505.21,242.01 503.01,243.79 503.01,244.70 505.05,243.26 505.05,249.60" stroke="#1a1a1a" stroke-width="0.15"/>
<text transform="translate(507.14,249.60) scale(0.89,1)" font-size="10.6" stroke="#1a1a1a" stroke-width="0.15">2</text>
</g></svg></body></html>
